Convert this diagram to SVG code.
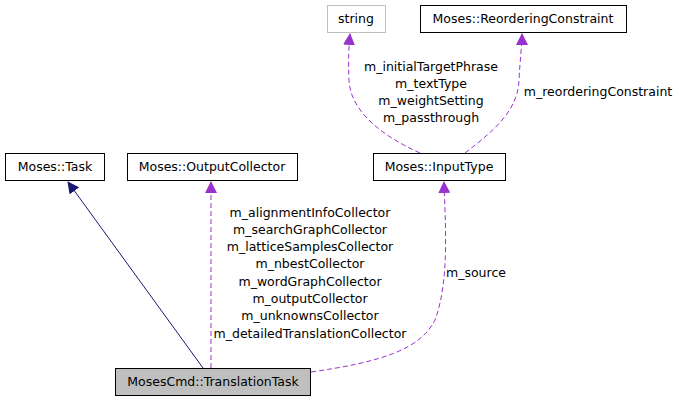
<svg xmlns="http://www.w3.org/2000/svg" width="679" height="403" viewBox="0 0 679 403">
<style>
text{font-family:"DejaVu Sans",sans-serif;font-size:12.5px;fill:#000}
.n{fill:#fff;stroke:#000;stroke-width:1}
.d{fill:none;stroke:#9a32cd;stroke-width:1;stroke-dasharray:5,3}
.l text{text-anchor:middle}
</style>
<defs>
<marker id="ap" markerWidth="12" markerHeight="12" refX="11" refY="6" orient="auto" markerUnits="userSpaceOnUse"><path d="M0,0L12,6L0,12z" fill="#9a32cd"/></marker>
<marker id="an" markerWidth="12" markerHeight="12" refX="11" refY="6" orient="auto" markerUnits="userSpaceOnUse"><path d="M0,0L12,6L0,12z" fill="#191970"/></marker>
</defs>
<rect width="679" height="403" fill="#fff"/>
<g id="connectors">
<path d="M203,368L68,182" stroke="#191970" fill="none" marker-end="url(#an)"/>
<path class="d" d="M211,368L211,182" marker-end="url(#ap)"/>
<path class="d" d="M311,372C380,362 420,350 435,320C450,280 445,220 444,182" marker-end="url(#ap)"/>
<path class="d" d="M420,153C380,135 350,110 349,80C348,60 349,45 350,34" marker-end="url(#ap)"/>
<path class="d" d="M465,153C495,130 518,110 519,80C520,60 522,45 522,34" marker-end="url(#ap)"/>
<g class="l">
<text x="310" y="217">m_alignmentInfoCollector</text>
<text x="310" y="234">m_searchGraphCollector</text>
<text x="310" y="251">m_latticeSamplesCollector</text>
<text x="310" y="268">m_nbestCollector</text>
<text x="310" y="286">m_wordGraphCollector</text>
<text x="310" y="303">m_outputCollector</text>
<text x="310" y="320">m_unknownsCollector</text>
<text x="310" y="338">m_detailedTranslationCollector</text>
<text x="476" y="277">m_source</text>
<text x="431" y="71">m_initialTargetPhrase</text>
<text x="431" y="88">m_textType</text>
<text x="431" y="105">m_weightSetting</text>
<text x="431" y="122">m_passthrough</text>
<text x="598" y="96">m_reorderingConstraint</text>
</g>
</g>
<g id="string"><rect x="327.5" y="5.5" width="58" height="27" fill="#fff" stroke="#bfbfbf"/><text x="356" y="23" text-anchor="middle">string</text></g>
<g id="reordering"><rect class="n" x="420.5" y="5.5" width="206" height="27"/><text x="523" y="23" text-anchor="middle">Moses::ReorderingConstraint</text></g>
<g id="task"><rect class="n" x="5.5" y="153.5" width="99" height="27"/><text x="55" y="171" text-anchor="middle">Moses::Task</text></g>
<g id="output"><rect class="n" x="127.5" y="153.5" width="170" height="27"/><text x="212" y="171" text-anchor="middle">Moses::OutputCollector</text></g>
<g id="input"><rect class="n" x="373.5" y="153.5" width="132" height="27"/><text x="439" y="171" text-anchor="middle">Moses::InputType</text></g>
<g id="translation"><rect x="115.5" y="368.5" width="195" height="27" fill="#bfbfbf" stroke="#000"/><text x="213" y="386" text-anchor="middle">MosesCmd::TranslationTask</text></g>
</svg>
